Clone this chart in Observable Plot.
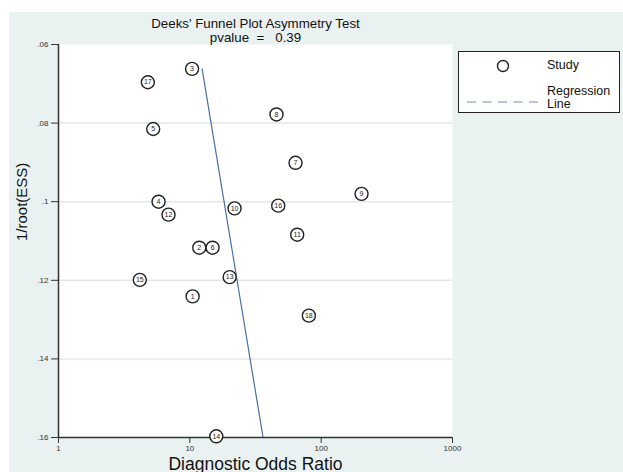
<!DOCTYPE html>
<html>
<head>
<meta charset="utf-8">
<script src="https://cdn.jsdelivr.net/npm/d3@7"></script>
<script src="https://cdn.jsdelivr.net/npm/@observablehq/plot@0.6"></script>
<style>
  body { margin: 0; background: white; }
  #wrap { position: relative; width: 623px; height: 472px; background: white; overflow: hidden; font-family: "Liberation Sans", Arial, sans-serif; }
  #bg { position: absolute; left: 9px; top: 12px; right: 0; bottom: 0; background: #eaf1f1; }
  #chart { position: absolute; left: 0; top: 0; }
  #legend { position: absolute; left: 458px; top: 51px; width: 162px; height: 62px; box-sizing: border-box; border: 1px solid #222; background: white; }
  .lt { position: absolute; font-size: 12.5px; color: #111; line-height: 13px; white-space: nowrap; }
</style>
</head>
<body>
<div id="wrap">
  <div id="bg"></div>
  <div id="chart"></div>
  <div id="legend">
    <svg width="162" height="62" style="position:absolute;left:0;top:0">
      <circle cx="44" cy="14" r="5.5" fill="white" stroke="#222" stroke-width="1.4"></circle>
      <line x1="8" y1="50" x2="79" y2="50" stroke="#6b8fc0" stroke-width="1.2" stroke-dasharray="9 6.5"></line>
    </svg>
    <div class="lt" style="left:88px;top:7px;">Study</div>
    <div class="lt" style="left:88px;top:33px;">Regression<br>Line</div>
  </div>
</div>
<script>
// Study labels and values
const studies   = ["1","2","3","4","5","6","7","8","9","10","11","12","13","14","15","16","17","18"];
const dorValues = [10.5, 11.8, 10.4, 5.78, 5.26, 14.9, 63.8, 45.7, 203, 21.9, 65.7, 6.88, 20.1, 15.9, 4.16, 47.1, 4.79, 80.6];
const essValues = [0.1241, 0.1117, 0.0662, 0.1000, 0.0815, 0.1117, 0.0901, 0.0778, 0.0980, 0.1017, 0.1084, 0.1033, 0.1192, 0.1597, 0.1199, 0.1010, 0.0696, 0.1290];

// Regression line endpoints
const regDor = [12.4, 36.0];
const regEss = [0.0662, 0.1597];

// Ticks
const yTicks = [0.06, 0.08, 0.1, 0.12, 0.14, 0.16];
const yGrid = [0.08, 0.1, 0.12, 0.14];
const xTicks = [1, 10, 100, 1000];

const titleLines = ["Deeks' Funnel Plot Asymmetry Test", "pvalue  =   0.39"];
const xTitle = "Diagnostic Odds Ratio";
const yTitle = "1/root(ESS)";

const data = studies.map((s, i) => ({study: s, dor: dorValues[i], ess: essValues[i]}));
const reg = regDor.map((d, i) => ({dor: d, ess: regEss[i]}));

const chart = Plot.plot({
  width: 623,
  height: 472,
  marginLeft: 58,
  marginRight: 171,
  marginTop: 44,
  marginBottom: 35,
  x: {type: "log", domain: [1, 1000]},
  y: {domain: [0.06, 0.16], reverse: true},
  style: {background: "transparent", fontFamily: "'Liberation Sans', Arial, sans-serif", color: "#333"},
  marks: [
    Plot.frame({fill: "white", stroke: "none"}),
    Plot.gridY(yGrid, {stroke: "#dfe9ea", strokeOpacity: 1, strokeWidth: 1.5}),
    Plot.axisY(yTicks, {tickSize: 7, tickPadding: 3, fontSize: 8, label: null, tickFormat: d => String(d).replace(/^0/, ""), stroke: "#333"}),
    Plot.axisX(xTicks, {tickSize: 6, tickPadding: 2, fontSize: 8, label: null, tickFormat: d => String(d), stroke: "#333"}),
    Plot.ruleX([1], {stroke: "#333", strokeWidth: 1.5}),
    Plot.ruleY([0.16], {stroke: "#333", strokeWidth: 1.5}),
    Plot.line(reg, {x: "dor", y: "ess", stroke: "#4a6fa5", strokeWidth: 1.2}),
    Plot.dot(data, {x: "dor", y: "ess", r: 6.5, fill: "white", stroke: "#222", strokeWidth: 1.4}),
    Plot.text(data, {x: "dor", y: "ess", text: "study", fontSize: 7, fill: "#222"}),
    Plot.text([titleLines[0]], {text: d => d, frameAnchor: "top", dy: -26, fontSize: 13.3, fill: "#111"}),
    Plot.text([titleLines[1]], {text: d => d, frameAnchor: "top", dy: -12, fontSize: 13.3, fill: "#111"}),
    Plot.text([xTitle], {text: d => d, frameAnchor: "bottom", dy: 32, fontSize: 17.5, fill: "#111"}),
    Plot.text([yTitle], {text: d => d, frameAnchor: "left", dx: -36, rotate: -90, fontSize: 15, fill: "#111"})
  ]
});
document.getElementById("chart").appendChild(chart);
</script>
</body>
</html>
